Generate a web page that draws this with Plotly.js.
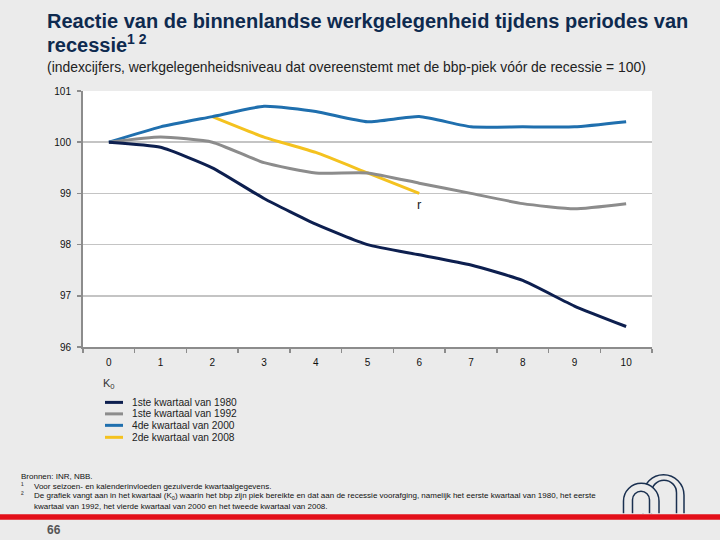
<!DOCTYPE html>
<html>
<head>
<meta charset="utf-8">
<script src="https://cdn.plot.ly/plotly-3.0.1.min.js"></script>
<style>
  html, body { margin: 0; padding: 0; background: #ebebeb; }
  #chart { width: 720px; height: 540px; }
</style>
</head>
<body>
<div id="chart"></div>
<script>
// kwartalen na de bbp-piek (K0 = 0)
const quarters = ['0', '1', '2', '3', '4', '5', '6', '7', '8', '9', '10'];
const yTicks = [96, 97, 98, 99, 100, 101];

const q1980 = [100, 99.9, 99.5, 98.9, 98.4, 98.0, 97.8, 97.6, 97.3, 96.8, 96.4];
const q1992 = [100, 100.1, 100.0, 99.6, 99.4, 99.4, 99.2, 99.0, 98.8, 98.7, 98.8];
const q2000 = [100, 100.3, 100.5, 100.7, 100.6, 100.4, 100.5, 100.3, 100.3, 100.3, 100.4];
const q2008 = [null, null, 100.5, 100.1, 99.8, 99.4, 99.0, null, null, null, null];

const seriesNames = ['1ste kwartaal van 1980', '1ste kwartaal van 1992', '4de kwartaal van 2000', '2de kwartaal van 2008'];
const seriesValues = [q1980, q1992, q2000, q2008];
const seriesColors = ['#0d1f4f', '#8c8c8c', '#1f6fae', '#f4c21f'];

// plot area in pixels
const L = 83, R = 652, T = 91, B = 347.5;
function px(x) { return (x - L) / (R - L); }
function py(y) { return (B - y) / (B - T); }

const FONT = 'Liberation Sans, Arial, sans-serif';

var data = seriesValues.map(function (vals, i) {
  return {
    x: quarters,
    y: vals,
    name: seriesNames[i],
    type: 'scatter',
    mode: 'lines',
    connectgaps: false,
    line: { color: seriesColors[i], width: 3, shape: 'spline', smoothing: 0.5 },
    hoverinfo: 'x+y+name'
  };
});

// 1980 bovenop, zoals in de bron
data.reverse();

var shapes = [];
var annotations = [];

// legend, drawn by hand to keep the tight spacing
var legendRows = [403, 414.5, 426, 438];
seriesNames.forEach(function (name, i) {
  shapes.push({
    type: 'line', xref: 'paper', yref: 'paper',
    x0: px(105), x1: px(123), y0: py(legendRows[i]), y1: py(legendRows[i]),
    line: { color: seriesColors[i], width: 3 }
  });
  annotations.push({
    xref: 'paper', yref: 'paper', x: px(130), y: py(legendRows[i]),
    xanchor: 'left', yanchor: 'middle', showarrow: false,
    text: name, font: { family: FONT, size: 10.2, color: '#222' }
  });
});

// red band at the bottom
shapes.push({
  type: 'rect', xref: 'paper', yref: 'paper',
  x0: px(0), x1: px(720), y0: py(520.5), y1: py(515),
  fillcolor: '#e3101a', line: { width: 0 }
});

// logo: two arches
function arch(x0, x1, top, bottom) {
  var r = (x1 - x0) / 2, cx = (x0 + x1) / 2, yc = top + r, k = 0.5523;
  function p(x, y) { return px(x).toFixed(5) + ',' + py(y).toFixed(5); }
  return 'M' + p(x0, bottom) + ' L' + p(x0, yc) +
    ' C' + p(x0, yc - k * r) + ' ' + p(cx - k * r, top) + ' ' + p(cx, top) +
    ' C' + p(cx + k * r, top) + ' ' + p(x1, yc - k * r) + ' ' + p(x1, yc) +
    ' L' + p(x1, bottom);
}
var navy = '#1a3050';
shapes.push({ type: 'path', xref: 'paper', yref: 'paper', path: arch(643, 684, 475.5, 514), line: { color: navy, width: 1.5 }, fillcolor: 'rgba(0,0,0,0)' });
shapes.push({ type: 'path', xref: 'paper', yref: 'paper', path: arch(651.5, 676.5, 481, 514), line: { color: navy, width: 1.5 }, fillcolor: 'rgba(0,0,0,0)' });
shapes.push({ type: 'path', xref: 'paper', yref: 'paper', path: arch(623.5, 659, 484, 514) + ' Z', line: { color: 'rgba(0,0,0,0)', width: 0 }, fillcolor: '#ebebeb' });
shapes.push({ type: 'path', xref: 'paper', yref: 'paper', path: arch(623.5, 659, 484, 514), line: { color: navy, width: 1.5 }, fillcolor: 'rgba(0,0,0,0)' });
shapes.push({ type: 'path', xref: 'paper', yref: 'paper', path: arch(632.5, 649.5, 492, 514), line: { color: navy, width: 1.5 }, fillcolor: 'rgba(0,0,0,0)' });

// texts
annotations.push({
  xref: 'paper', yref: 'paper', x: px(45), y: py(43), xanchor: 'left', yanchor: 'middle',
  showarrow: false, text: '<b>recessie<sup>1 2</sup></b>',
  font: { family: FONT, size: 20, color: '#0e2a4f' }
});
annotations.push({
  xref: 'paper', yref: 'paper', x: px(45), y: py(67), xanchor: 'left', yanchor: 'middle',
  showarrow: false, text: '(indexcijfers, werkgelegenheidsniveau dat overeenstemt met de bbp-piek vóór de recessie = 100)',
  font: { family: FONT, size: 13.9, color: '#222' }
});
annotations.push({
  xref: 'paper', yref: 'paper', x: px(101), y: py(385), xanchor: 'left', yanchor: 'middle',
  showarrow: false, text: 'K<sub>0</sub>', font: { family: FONT, size: 11, color: '#333' }
});
annotations.push({
  xref: 'x', yref: 'y', x: '6', y: 98.78, xanchor: 'center', yanchor: 'middle',
  showarrow: false, text: 'r', font: { family: FONT, size: 13, color: '#222' }
});

var notes = [
  [19, 477, 'Bronnen: INR, NBB.'],
  [19, 486, '¹'],
  [32, 487, 'Voor seizoen- en kalenderinvloeden gezuiverde kwartaalgegevens.'],
  [19, 495.5, '²'],
  [32, 497, 'De grafiek vangt aan in het kwartaal (K<sub>0</sub>) waarin het bbp zijn piek bereikte en dat aan de recessie voorafging, namelijk het eerste kwartaal van 1980, het eerste'],
  [32, 507, 'kwartaal van 1992, het vierde kwartaal van 2000 en het tweede kwartaal van 2008.']
];
notes.forEach(function (n) {
  annotations.push({
    xref: 'paper', yref: 'paper', x: px(n[0]), y: py(n[1]), xanchor: 'left', yanchor: 'middle',
    showarrow: false, text: n[2], font: { family: FONT, size: 8, color: '#111' }
  });
});
annotations.push({
  xref: 'paper', yref: 'paper', x: px(45), y: py(531), xanchor: 'left', yanchor: 'middle',
  showarrow: false, text: '<b>66</b>', font: { family: FONT, size: 12, color: '#555' }
});

var layout = {
  width: 720,
  height: 540,
  paper_bgcolor: '#ebebeb',
  plot_bgcolor: '#ffffff',
  margin: { l: L, r: 720 - R, t: T, b: 540 - B, pad: 0 },
  showlegend: false,
  title: {
    text: '<b>Reactie van de binnenlandse werkgelegenheid tijdens periodes van</b>',
    xref: 'container', yref: 'container',
    x: 47 / 720, xanchor: 'left',
    y: 1 - 21 / 540, yanchor: 'middle',
    font: { family: FONT, size: 20, color: '#0e2a4f' }
  },
  xaxis: {
    type: 'category',
    categoryorder: 'array',
    categoryarray: quarters,
    range: [-0.5, 10.5],
    tickson: 'boundaries',
    ticks: 'outside',
    ticklen: 4,
    tickwidth: 1.5,
    tickcolor: '#8c8c8c',
    showline: true,
    linecolor: '#8c8c8c',
    linewidth: 2,
    showgrid: false,
    ticklabelstandoff: 5,
    tickfont: { family: FONT, size: 10, color: '#111' },
    fixedrange: true
  },
  yaxis: {
    range: [96, 101],
    tickvals: yTicks,
    ticks: 'outside',
    ticklen: 4,
    tickwidth: 1.5,
    tickcolor: '#8c8c8c',
    showline: true,
    linecolor: '#8c8c8c',
    linewidth: 2,
    showgrid: true,
    gridcolor: '#c4c4c4',
    gridwidth: 1.5,
    zeroline: false,
    ticklabelstandoff: 4,
    tickfont: { family: FONT, size: 10, color: '#111' },
    fixedrange: true
  },
  shapes: shapes,
  annotations: annotations
};

Plotly.newPlot('chart', data, layout, { displayModeBar: false, staticPlot: true });
</script>
</body>
</html>
